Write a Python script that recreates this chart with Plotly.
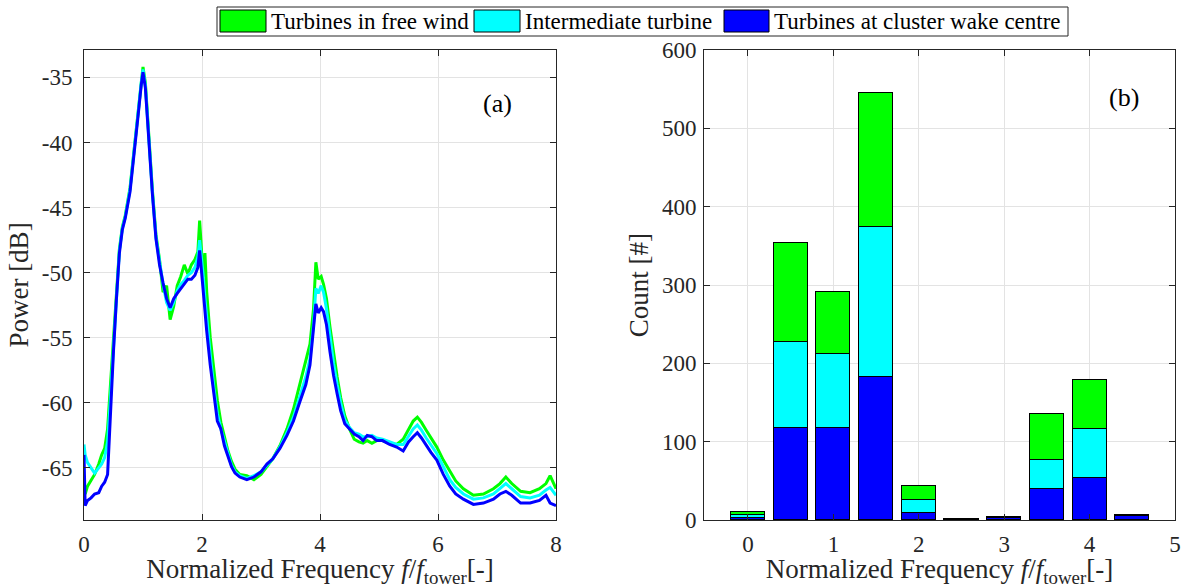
import plotly.graph_objects as go

# ---------------- data: panel (a) ----------------
freq = [0, 0.02, 0.06, 0.12, 0.18, 0.25, 0.30, 0.35, 0.40, 0.45, 0.50, 0.55, 0.60, 0.65, 0.70,
        0.78, 0.85, 0.92, 0.97, 1.00, 1.04, 1.10, 1.16, 1.22, 1.28, 1.34, 1.40, 1.46, 1.52, 1.58,
        1.64, 1.70, 1.76, 1.82, 1.88, 1.93, 1.96, 1.99, 2.02, 2.05, 2.08, 2.14, 2.20, 2.26, 2.32,
        2.38, 2.44, 2.50, 2.56, 2.64, 2.76, 2.88, 3.00, 3.10, 3.20, 3.32, 3.44, 3.55, 3.66, 3.76,
        3.83, 3.89, 3.93, 3.97, 4.02, 4.06, 4.11, 4.17, 4.23, 4.29, 4.35, 4.42, 4.50, 4.58, 4.66,
        4.73, 4.80, 4.88, 4.96, 5.06, 5.18, 5.30, 5.41, 5.50, 5.58, 5.65, 5.72, 5.80, 5.88, 5.98,
        6.09, 6.20, 6.30, 6.43, 6.60, 6.77, 6.94, 7.05, 7.15, 7.25, 7.40, 7.56, 7.72, 7.83, 7.90, 8.00]

power_wake = [-64.0, -67.9, -67.5, -67.3, -67.0, -66.9, -66.4, -66.1, -65.5, -60.5, -56.0, -52.0, -48.5, -46.7, -45.8,
              -43.8, -41.0, -37.8, -35.6, -34.6, -35.8, -40.1, -44.0, -47.4, -49.4, -50.8, -52.0, -52.7, -52.0, -51.6,
              -51.2, -50.9, -50.5, -50.5, -50.2, -49.6, -48.3, -49.8, -51.4, -53.0, -54.5, -57.1, -59.5, -61.4, -62.0,
              -63.3, -64.1, -64.9, -65.4, -65.7, -65.9, -65.7, -65.3, -64.7, -64.3, -63.5, -62.5, -61.4, -59.9, -58.6,
              -57.1, -54.5, -52.4, -53.1, -52.7, -53.0, -54.0, -56.1, -57.9, -59.3, -60.6, -61.6, -62.0, -62.4, -62.6,
              -62.9, -62.5, -62.6, -62.9, -62.9, -63.2, -63.4, -63.7, -63.0, -62.6, -62.3, -62.7, -63.3, -63.8, -64.4,
              -65.5, -66.4, -67.0, -67.4, -67.8, -67.7, -67.4, -67.0, -66.8, -67.1, -67.7, -67.7, -67.5, -67.1, -67.7, -67.9]

power_inter = [-63.2, -64.0, -64.6, -65.0, -65.4, -65.0, -64.7, -64.2, -63.0, -59.5, -55.5, -51.7, -48.3, -46.6, -45.7,
               -43.6, -40.8, -37.6, -35.4, -34.4, -35.6, -40.0, -43.9, -47.3, -49.3, -50.9, -52.3, -52.9, -52.3, -51.4,
               -50.9, -50.6, -50.2, -50.0, -49.6, -48.8, -47.5, -48.8, -50.2, -52.0, -53.6, -56.3, -58.8, -60.8, -62.0,
               -63.0, -64.0, -64.8, -65.3, -65.6, -65.8, -65.6, -65.3, -64.8, -64.3, -63.4, -62.3, -61.1, -59.5, -58.0,
               -56.6, -54.0, -51.2, -51.6, -51.0, -51.5, -52.8, -55.0, -57.0, -58.6, -60.0, -61.3, -61.9, -62.3, -62.4,
               -62.6, -62.6, -62.5, -62.7, -62.8, -63.0, -63.2, -63.2, -62.6, -62.0, -61.7, -62.1, -62.7, -63.2, -63.9,
               -64.9, -65.9, -66.5, -67.0, -67.4, -67.3, -67.0, -66.6, -66.2, -66.6, -67.2, -67.3, -67.1, -66.7, -66.5, -67.1]

power_free = [-65.8, -67.0, -66.4, -66.0, -65.5, -64.7, -64.0, -63.5, -62.0, -58.5, -55.0, -51.5, -48.2, -46.5, -45.6,
              -43.5, -40.6, -37.4, -35.2, -34.2, -35.4, -39.8, -43.7, -47.1, -49.0, -51.5, -51.0, -53.6, -52.6, -51.0,
              -50.3, -49.4, -50.1, -49.4, -49.0, -48.4, -46.0, -48.2, -50.3, -48.5, -51.5, -55.0, -57.6, -59.8, -61.5,
              -62.6, -63.7, -64.5, -65.1, -65.5, -65.6, -65.9, -65.5, -64.9, -64.3, -63.3, -62.0, -60.5, -58.6, -56.7,
              -55.5, -52.8, -49.2, -50.5, -50.3, -50.9, -52.0, -54.2, -56.3, -58.0, -59.6, -61.0, -62.0, -62.8, -63.0,
              -63.1, -62.9, -63.1, -62.9, -62.9, -63.1, -63.2, -62.8, -62.0, -61.4, -61.1, -61.5, -62.1, -62.7, -63.4,
              -64.4, -65.3, -66.0, -66.6, -67.1, -67.0, -66.6, -66.2, -65.7, -66.2, -66.8, -66.9, -66.6, -66.2, -65.6, -66.6]

power_ticks = [-65, -60, -55, -50, -45, -40, -35]
power_ticklabels = ["-65", "-60", "-55", "-50", "-45", "-40", "-35"]
freq_ticks = [0, 2, 4, 6, 8]

# ---------------- data: panel (b) ----------------
bins = [0, 0.5, 1.0, 1.5, 2.0, 2.5, 3.0, 3.5, 4.0, 4.5]
count_wake = [3, 117, 117, 183, 9, 1, 2, 39, 54, 5]
count_inter = [4, 110, 95, 191, 17, 0, 1, 37, 62, 2]
count_free = [3, 127, 79, 171, 18, 0, 1, 59, 63, 0]
count_ticks = [0, 100, 200, 300, 400, 500, 600]
bin_ticks = [0, 1, 2, 3, 4, 5]

names = ["Turbines in free wind", "Intermediate turbine", "Turbines at cluster wake centre"]
colors = ["#00FF00", "#00FFFF", "#0000FF"]

FONT = "Liberation Serif"
W, H = 1183, 588
TXT = "#262626"

fig = go.Figure()

# lines (panel a): green first, blue on top
for vals, col, nm in [(power_free, colors[0], names[0]), (power_inter, colors[1], names[1]),
                      (power_wake, colors[2], names[2])]:
    fig.add_trace(go.Scatter(x=freq, y=vals, mode="lines", line=dict(color=col, width=3), name=nm,
                             showlegend=False, xaxis="x", yaxis="y"))

# stacked bars (panel b): blue at the bottom
for vals, col, nm in [(count_wake, colors[2], names[2]),
                      (count_inter, colors[1], names[1]),
                      (count_free, colors[0], names[0])]:
    fig.add_trace(go.Bar(x=bins, y=vals, width=0.4, marker=dict(color=col, line=dict(color="#000000", width=1)),
                         name=nm, showlegend=False, xaxis="x2", yaxis="y2"))

ydom = [1 - 520 / H, 1 - 50 / H]
axis_common = dict(showline=True, linecolor=TXT, linewidth=1, mirror="allticks", ticks="inside",
                   ticklen=6, tickcolor=TXT, showgrid=True, gridcolor="#E3E3E3", gridwidth=1,
                   zeroline=False, automargin=False, tickfont=dict(family=FONT, size=23, color=TXT))

title_font = dict(family=FONT, size=27, color=TXT)
xtitle = "Normalized Frequency <i>f</i>/<i>f</i><sub>tower</sub>[-]"

# manual legend (box, colour patches, labels) placed at the top of the figure
shapes = [dict(type="rect", xref="paper", yref="paper", x0=217 / W, x1=1068 / W, y0=1 - 36 / H, y1=1 - 7 / H,
               line=dict(color=TXT, width=1), fillcolor="white", layer="above")]
annotations = []
patch_x = [(220, 266), (474, 520), (724, 769)]
text_x = [269, 523, 772]
for (a, b), tx, col, nm in zip(patch_x, text_x, colors, names):
    shapes.append(dict(type="rect", xref="paper", yref="paper", x0=a / W, x1=b / W, y0=1 - 32 / H, y1=1 - 10 / H,
                       line=dict(color="#000000", width=1), fillcolor=col, layer="above"))
    annotations.append(dict(text=nm, x=tx / W, y=1 - 21.5 / H, xref="paper", yref="paper", xanchor="left",
                            yanchor="middle", showarrow=False, font=dict(family=FONT, size=23, color="#000000")))

annotations += [
    dict(text="(a)", x=497 / W, y=1 - 103 / H, xref="paper", yref="paper", xanchor="center", yanchor="middle",
         showarrow=False, font=dict(family=FONT, size=26, color="#000000")),
    dict(text="(b)", x=1124 / W, y=1 - 97 / H, xref="paper", yref="paper", xanchor="center", yanchor="middle",
         showarrow=False, font=dict(family=FONT, size=26, color="#000000")),
]

fig.update_layout(
    width=W, height=H,
    margin=dict(l=0, r=0, t=0, b=0, autoexpand=False),
    paper_bgcolor="white", plot_bgcolor="white",
    barmode="stack", bargap=0, showlegend=False,
    font=dict(family=FONT, color=TXT),
    xaxis=dict(domain=[84 / W, 556 / W], range=[0, 8], tickvals=freq_ticks, ticklabelstandoff=3,
               title=dict(text=xtitle, font=title_font, standoff=17), anchor="y", **axis_common),
    yaxis=dict(domain=ydom, range=[-69.0, -32.9], tickvals=power_ticks, ticktext=power_ticklabels,
               ticklabelstandoff=6,
               title=dict(text="Power [dB]", font=title_font, standoff=5), anchor="x", **axis_common),
    xaxis2=dict(domain=[704 / W, 1175 / W], range=[-0.515, 5.0], tickvals=bin_ticks, ticklabelstandoff=3,
                title=dict(text=xtitle, font=title_font, standoff=17), anchor="y2", **axis_common),
    yaxis2=dict(domain=ydom, range=[0, 600], tickvals=count_ticks, ticklabelstandoff=2,
                title=dict(text="Count [#]", font=title_font, standoff=5), anchor="x2", **axis_common),
    shapes=shapes,
    annotations=annotations,
)

fig.write_html("out.html", config={"displayModeBar": False},
               post_script="document.body.style.margin='0';")
